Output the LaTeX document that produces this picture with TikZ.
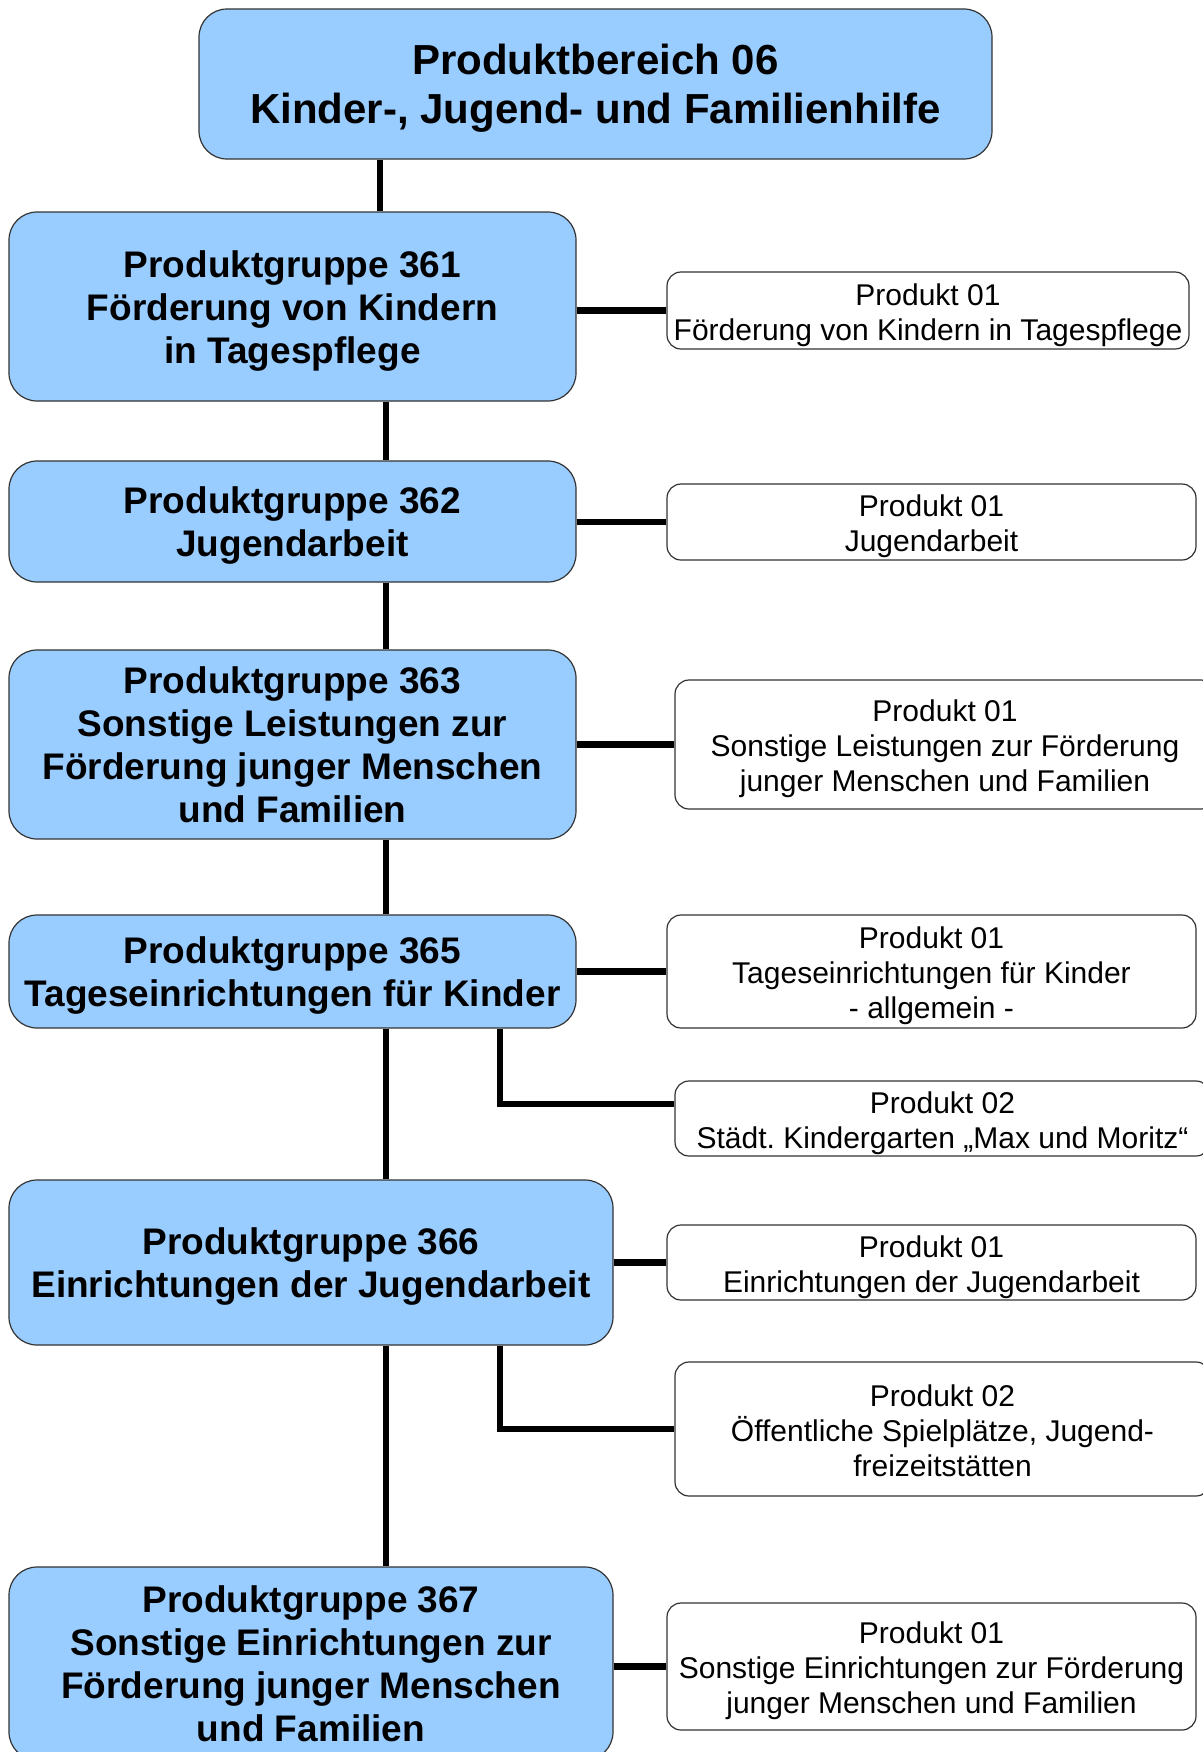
\documentclass[tikz,border=0pt]{standalone}
\usepackage{fontspec}
\setmainfont{Liberation Sans}
\frenchspacing
\newcommand\tdown{\rule{0pt}{\dimexpr0.72em+4.4pt\relax}}
\newcommand\tdownhalf{\rule{0pt}{\dimexpr0.72em+1.6pt\relax}}
\begin{document}
\begin{tikzpicture}[x=0.5pt,y=-0.5pt,
  grp/.style={draw=black!80, line width=0.6pt, fill={rgb,255:red,153;green,204;blue,255}, rounded corners=14pt, align=center, inner sep=0pt, font=\fontsize{18.5}{21.5}\selectfont\bfseries},
  prod/.style={draw=black!80, line width=0.6pt, fill=white, rounded corners=7pt, align=center, inner sep=0pt, font=\fontsize{15}{17.5}\selectfont},
  conn/.style={line width=3.2pt}]
\useasboundingbox (0,0) rectangle (1203,1752);
\clip (0,0) rectangle (1203,1752);
% top
\node[grp, font=\fontsize{21}{24.5}\selectfont\bfseries, minimum width=396.5pt, minimum height=75pt] (top) at (595.5,84) {\tdown Produktbereich 06\\Kinder-, Jugend- und Familienhilfe};
% groups
\node[grp, minimum width=283.5pt, minimum height=94.5pt] (g361) at (292.5,306.5) {\tdown Produktgruppe 361\\Förderung von Kindern\\in Tagespflege};
\node[grp, minimum width=283.5pt, minimum height=60.5pt] (g362) at (292.5,521.5) {\tdown Produktgruppe 362\\Jugendarbeit};
\node[grp, minimum width=283.5pt, minimum height=94.5pt] (g363) at (292.5,744.5) {Produktgruppe 363\\Sonstige Leistungen zur\\Förderung junger Menschen\\und Familien};
\node[grp, minimum width=283.5pt, minimum height=56.5pt] (g365) at (292.5,971.5) {\tdown Produktgruppe 365\\Tageseinrichtungen für Kinder};
\node[grp, minimum width=302pt, minimum height=82.5pt] (g366) at (311,1262.5) {\tdown Produktgruppe 366\\Einrichtungen der Jugendarbeit};
\node[grp, minimum width=302pt, minimum height=96.5pt] (g367) at (311,1663.5) {Produktgruppe 367\\Sonstige Einrichtungen zur\\Förderung junger Menschen\\und Familien};
% products
\node[prod, minimum width=261pt, minimum height=38.5pt] (p361) at (928,310.5) {\tdown Produkt 01\\Förderung von Kindern in Tagespflege};
\node[prod, minimum width=264.5pt, minimum height=38pt] (p362) at (931.5,522) {\tdown Produkt 01\\Jugendarbeit};
\node[prod, minimum width=270pt, minimum height=64.5pt] (p363) at (945,744.5) {\tdown Produkt 01\\Sonstige Leistungen zur Förderung\\junger Menschen und Familien};
\node[prod, minimum width=264.5pt, minimum height=56.5pt] (p365a) at (931.5,971.5) {\tdown Produkt 01\\Tageseinrichtungen für Kinder\\- allgemein -};
\node[prod, minimum width=267.5pt, minimum height=37.5pt] (p365b) at (942.5,1118.5) {\tdown Produkt 02\\Städt. Kindergarten „Max und Moritz“};
\node[prod, minimum width=264.5pt, minimum height=37.5pt] (p366a) at (931.5,1262.5) {\tdown Produkt 01\\Einrichtungen der Jugendarbeit};
\node[prod, minimum width=267.5pt, minimum height=67pt] (p366b) at (942.5,1429) {\tdownhalf Produkt 02\\Öffentliche Spielplätze, Jugend-\\freizeitstätten};
\node[prod, minimum width=264.5pt, minimum height=63.5pt] (p367) at (931.5,1666.5) {\tdown Produkt 01\\Sonstige Einrichtungen zur Förderung\\junger Menschen und Familien};
% vertical spine
\draw[conn] (380,0 |- top.south) -- (380,0 |- g361.north);
\draw[conn] (386,0 |- g361.south) -- (386,0 |- g362.north);
\draw[conn] (386,0 |- g362.south) -- (386,0 |- g363.north);
\draw[conn] (386,0 |- g363.south) -- (386,0 |- g365.north);
\draw[conn] (386,0 |- g365.south) -- (386,0 |- g366.north);
\draw[conn] (386,0 |- g366.south) -- (386,0 |- g367.north);
% horizontal
\draw[conn] (g361.east |- p361.west) -- (p361.west);
\draw[conn] (g362.east |- p362.west) -- (p362.west);
\draw[conn] (g363.east |- p363.west) -- (p363.west);
\draw[conn] (g365.east |- p365a.west) -- (p365a.west);
\draw[conn] (g366.east |- p366a.west) -- (p366a.west);
\draw[conn] (g367.east |- p367.west) -- (p367.west);
% elbows
\draw[conn] (500,0 |- g365.south) -- (500,1104) -- (p365b.west |- 0,1104);
\draw[conn] (500,0 |- g366.south) -- (500,0 |- p366b.west) -- (p366b.west);
\end{tikzpicture}
\end{document}
